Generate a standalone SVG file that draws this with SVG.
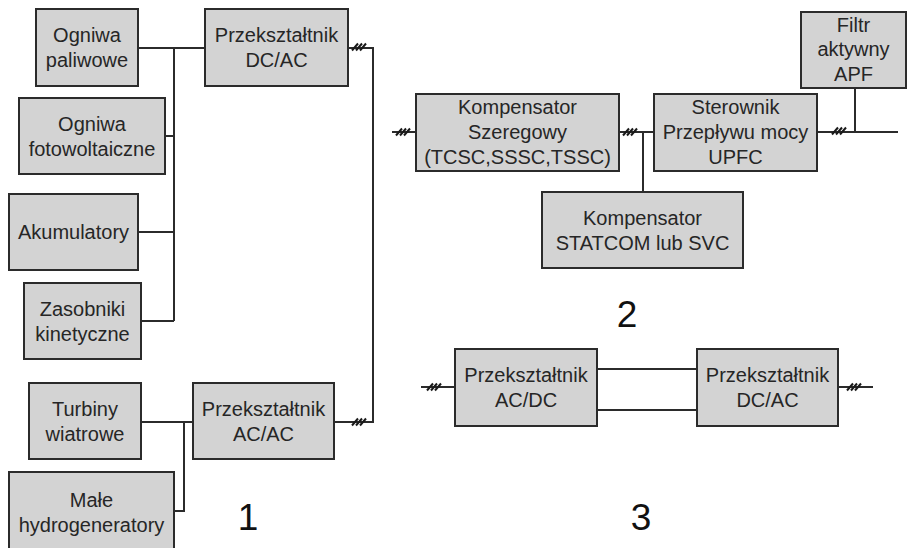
<svg xmlns="http://www.w3.org/2000/svg" xmlns:xlink="http://www.w3.org/1999/xlink" width="911" height="548" viewBox="0 0 911 548">
<style>
.box{fill:#d3d3d3;stroke:#2b2b2b;stroke-width:2}
.t{font-family:"Liberation Sans",Arial,sans-serif;font-size:20px;fill:#262626;text-anchor:middle}
.num{font-family:"Liberation Sans",Arial,sans-serif;font-size:37px;fill:#111;text-anchor:middle}
.ln{fill:none;stroke:#2b2b2b;stroke-width:2}
.h{stroke:#1a1a1a;stroke-width:2;fill:none}
</style>
<defs>
<g id="hash" class="h">
<path d="M-7,3.5 L-1,-3.5 M-3,3.5 L3,-3.5 M1,3.5 L7,-3.5"/>
</g>
</defs>
<rect width="911" height="548" fill="#fff"/>
<g id="connectors">
<path class="ln" d="M138,48 H205 M174,48 V321 M165,136 H174 M138,232 H174 M141,321 H174"/>
<path class="ln" d="M348,48 H373 V422 H334"/>
<path class="ln" d="M141,422 H193 M184,422 V511 H174"/>
<path class="ln" d="M392,132 H416 M619,132 H654 M643,132 V192 M817,132 H898 M855,88 V132"/>
<path class="ln" d="M421,387 H455 M597,369 H697 M597,410 H697 M838,387 H873"/>
<use xlink:href="#hash" x="359" y="47"/>
<use xlink:href="#hash" x="359" y="422"/>
<use xlink:href="#hash" x="403" y="132"/>
<use xlink:href="#hash" x="630" y="132"/>
<use xlink:href="#hash" x="839" y="131"/>
<use xlink:href="#hash" x="434" y="387"/>
<use xlink:href="#hash" x="854" y="387"/>
</g>
<g id="ogniwa-paliwowe"><rect class="box" x="36" y="9" width="102" height="77"/><text class="t" x="87" y="42">Ogniwa</text><text class="t" x="87" y="67">paliwowe</text></g>
<g id="ogniwa-fotowoltaiczne"><rect class="box" x="19" y="98" width="146" height="76"/><text class="t" x="92" y="131">Ogniwa</text><text class="t" x="92" y="156">fotowoltaiczne</text></g>
<g id="akumulatory"><rect class="box" x="9" y="194" width="129" height="76"/><text class="t" x="73.5" y="239">Akumulatory</text></g>
<g id="zasobniki"><rect class="box" x="24" y="283" width="117" height="76"/><text class="t" x="82.5" y="316">Zasobniki</text><text class="t" x="82.5" y="341">kinetyczne</text></g>
<g id="przeksztaltnik-dcac-1"><rect class="box" x="205" y="9" width="143" height="77"/><text class="t" x="276.5" y="42">Przekształtnik</text><text class="t" x="276.5" y="67">DC/AC</text></g>
<g id="turbiny"><rect class="box" x="29" y="383" width="112" height="76"/><text class="t" x="85" y="416">Turbiny</text><text class="t" x="85" y="441">wiatrowe</text></g>
<g id="przeksztaltnik-acac"><rect class="box" x="193" y="383" width="141" height="76"/><text class="t" x="263.5" y="416">Przekształtnik</text><text class="t" x="263.5" y="441">AC/AC</text></g>
<g id="male-hydrogeneratory"><rect class="box" x="9" y="472" width="165" height="82"/><text class="t" x="91.5" y="507">Małe</text><text class="t" x="91.5" y="532">hydrogeneratory</text></g>
<g id="kompensator-szeregowy"><rect class="box" x="416" y="94" width="203" height="77"/><text class="t" x="517.5" y="113.5">Kompensator</text><text class="t" x="517.5" y="138.5">Szeregowy</text><text class="t" x="517.5" y="163.5">(TCSC,SSSC,TSSC)</text></g>
<g id="sterownik-upfc"><rect class="box" x="654" y="94" width="163" height="77"/><text class="t" x="735.5" y="113.5">Sterownik</text><text class="t" x="735.5" y="138.5">Przepływu mocy</text><text class="t" x="735.5" y="163.5">UPFC</text></g>
<g id="filtr-apf"><rect class="box" x="801" y="12" width="105" height="76"/><text class="t" x="853.5" y="31.5">Filtr</text><text class="t" x="853.5" y="56">aktywny</text><text class="t" x="853.5" y="80.5">APF</text></g>
<g id="kompensator-statcom"><rect class="box" x="542" y="192" width="201" height="76"/><text class="t" x="642.5" y="225">Kompensator</text><text class="t" x="642.5" y="250">STATCOM lub SVC</text></g>
<g id="przeksztaltnik-acdc"><rect class="box" x="455" y="349" width="142" height="77"/><text class="t" x="526" y="382">Przekształtnik</text><text class="t" x="526" y="407">AC/DC</text></g>
<g id="przeksztaltnik-dcac-3"><rect class="box" x="697" y="349" width="141" height="77"/><text class="t" x="767.5" y="382">Przekształtnik</text><text class="t" x="767.5" y="407">DC/AC</text></g>
<g id="labels"><text class="num" x="248" y="530">1</text><text class="num" x="627" y="327">2</text><text class="num" x="641" y="530">3</text></g>
</svg>
